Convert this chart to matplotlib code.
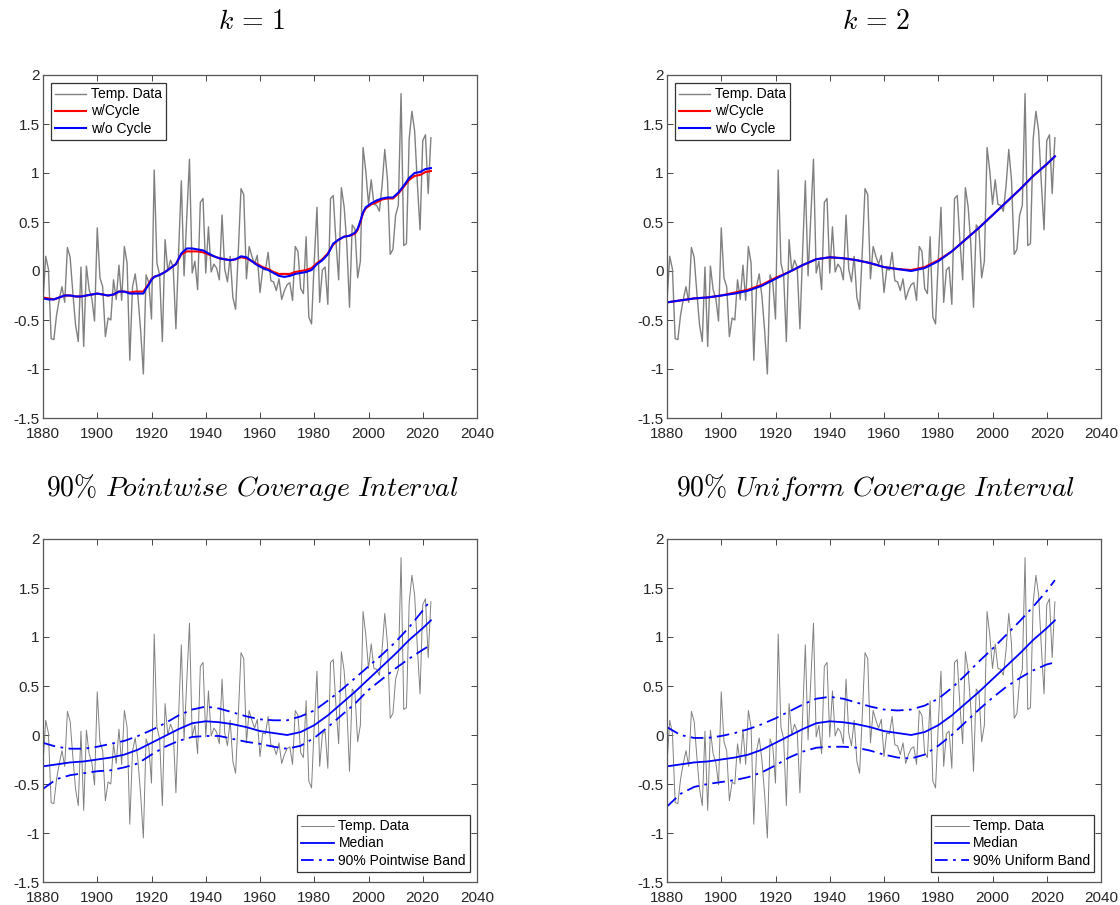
import numpy as np
import matplotlib
matplotlib.use("Agg")
import matplotlib.pyplot as plt

plt.rcParams['font.family'] = ['Liberation Sans', 'DejaVu Sans']
plt.rcParams['mathtext.fontset'] = 'cm'
plt.rcParams['axes.unicode_minus'] = False

# ---------------- data ----------------
years = list(range(1880, 2024))
temp = [
    -0.30, 0.15, 0.02, -0.69, -0.70, -0.45, -0.29, -0.16, -0.32, 0.24,   # 1880-1889
    0.14, -0.22, -0.55, -0.72, 0.04, -0.77, 0.05, -0.19, -0.28, -0.51,   # 1890-1899
    0.44, -0.07, -0.16, -0.67, -0.48, -0.50, -0.09, -0.29, 0.06, -0.30,  # 1900-1909
    0.25, 0.08, -0.91, -0.16, -0.03, -0.26, -0.61, -1.05, -0.04, -0.12,  # 1910-1919
    -0.49, 1.03, 0.08, -0.04, -0.72, 0.32, 0.00, 0.11, 0.04, -0.59,      # 1920-1929
    0.20, 0.92, -0.05, 0.55, 1.14, -0.02, 0.10, -0.19, 0.70, 0.74,       # 1930-1939
    -0.02, 0.45, -0.01, 0.07, 0.03, -0.09, 0.57, 0.02, -0.11, 0.15,      # 1940-1949
    -0.27, -0.39, 0.20, 0.84, 0.78, -0.08, 0.25, 0.15, 0.07, 0.16,       # 1950-1959
    -0.22, 0.02, 0.01, 0.19, -0.10, -0.11, -0.20, -0.08, -0.29, -0.20,   # 1960-1969
    -0.14, -0.12, -0.30, 0.25, 0.20, -0.18, -0.23, 0.35, -0.47, -0.54,   # 1970-1979
    0.10, 0.65, -0.32, 0.01, 0.04, -0.34, 0.74, 0.77, 0.30, -0.09,       # 1980-1989
    0.85, 0.66, 0.28, -0.37, 0.47, 0.43, -0.07, 0.10, 1.26, 1.02,        # 1990-1999
    0.68, 0.93, 0.68, 0.67, 0.61, 0.87, 1.24, 0.93, 0.17, 0.22,          # 2000-2009
    0.57, 0.67, 1.81, 0.26, 0.28, 1.35, 1.63, 1.43, 0.90, 0.42,          # 2010-2019
    1.33, 1.39, 0.79, 1.36,                                              # 2020-2023
]

# k = 1 trends
k1_years = [1880, 1882, 1884, 1886, 1888, 1890, 1892, 1894, 1896, 1898, 1900, 1902,
            1904, 1906, 1908, 1910, 1912, 1914, 1916, 1917, 1918, 1919, 1920, 1921,
            1923, 1925, 1927, 1929, 1931, 1933, 1935, 1937, 1939, 1941, 1943, 1945,
            1947, 1949, 1951, 1953, 1955, 1957, 1959, 1961, 1963, 1965, 1967, 1969,
            1971, 1973, 1975, 1977, 1979, 1981, 1983, 1985, 1987, 1989, 1991, 1993,
            1995, 1996, 1997, 1998, 1999, 2001, 2003, 2005, 2007, 2009, 2011, 2013,
            2015, 2017, 2019, 2021, 2023]
k1_cycle = [-0.27, -0.28, -0.29, -0.27, -0.25, -0.25, -0.26, -0.26, -0.25, -0.24, -0.23, -0.24,
            -0.25, -0.24, -0.21, -0.21, -0.22, -0.21, -0.21, -0.21, -0.17, -0.13, -0.08, -0.06,
            -0.04, -0.01, 0.03, 0.07, 0.17, 0.20, 0.20, 0.20, 0.19, 0.17, 0.15, 0.13,
            0.12, 0.11, 0.12, 0.14, 0.13, 0.10, 0.07, 0.04, 0.02, -0.01, -0.03, -0.03,
            -0.03, -0.01, 0.00, 0.01, 0.03, 0.08, 0.12, 0.18, 0.27, 0.32, 0.35, 0.36,
            0.38, 0.42, 0.50, 0.59, 0.64, 0.68, 0.70, 0.73, 0.74, 0.74, 0.79, 0.86,
            0.93, 0.97, 0.98, 1.01, 1.02]
k1_nocycle = [-0.28, -0.29, -0.29, -0.27, -0.25, -0.25, -0.26, -0.26, -0.25, -0.24, -0.23, -0.24,
              -0.25, -0.24, -0.21, -0.21, -0.23, -0.23, -0.23, -0.23, -0.18, -0.14, -0.09, -0.06,
              -0.04, -0.01, 0.03, 0.07, 0.18, 0.23, 0.23, 0.22, 0.21, 0.18, 0.15, 0.13,
              0.12, 0.11, 0.12, 0.15, 0.14, 0.10, 0.06, 0.03, 0.01, -0.02, -0.05, -0.06,
              -0.05, -0.03, -0.02, -0.01, 0.01, 0.07, 0.11, 0.17, 0.28, 0.32, 0.35, 0.36,
              0.39, 0.43, 0.51, 0.60, 0.65, 0.69, 0.72, 0.74, 0.75, 0.75, 0.80, 0.87,
              0.95, 1.00, 1.01, 1.04, 1.05]

# k = 2 trends / median and bands
k2_years = [1880, 1885, 1890, 1895, 1900, 1905, 1910, 1915, 1920, 1925, 1930, 1935, 1940,
            1945, 1950, 1955, 1960, 1965, 1970, 1975, 1980, 1985, 1990, 1995, 2000,
            2005, 2010, 2015, 2020, 2023]
k2_cycle = [-0.32, -0.30, -0.28, -0.27, -0.25, -0.22, -0.19, -0.14, -0.07, -0.01, 0.06, 0.12, 0.14,
            0.13, 0.11, 0.08, 0.04, 0.02, 0.01, 0.04, 0.11, 0.20, 0.32, 0.44, 0.57,
            0.70, 0.83, 0.97, 1.09, 1.17]
k2_nocycle = [-0.32, -0.30, -0.28, -0.27, -0.25, -0.23, -0.20, -0.15, -0.08, -0.01, 0.06, 0.12, 0.14,
              0.13, 0.11, 0.08, 0.04, 0.02, 0.00, 0.03, 0.10, 0.20, 0.32, 0.44, 0.57,
              0.70, 0.83, 0.97, 1.09, 1.17]
median = [-0.32, -0.30, -0.28, -0.27, -0.25, -0.23, -0.20, -0.15, -0.08, -0.01, 0.06, 0.12, 0.14,
          0.13, 0.11, 0.08, 0.04, 0.02, 0.00, 0.03, 0.10, 0.20, 0.32, 0.44, 0.57,
          0.70, 0.83, 0.97, 1.09, 1.17]
pw_upper = [-0.08, -0.12, -0.14, -0.14, -0.12, -0.09, -0.06, -0.01, 0.05, 0.12, 0.20, 0.26, 0.29,
            0.27, 0.23, 0.19, 0.16, 0.15, 0.15, 0.19, 0.25, 0.35, 0.46, 0.58, 0.70,
            0.82, 0.95, 1.10, 1.27, 1.38]
pw_lower = [-0.55, -0.45, -0.41, -0.39, -0.37, -0.36, -0.33, -0.29, -0.20, -0.12, -0.06, -0.02, -0.01,
            -0.01, -0.04, -0.07, -0.09, -0.12, -0.14, -0.11, -0.03, 0.08, 0.20, 0.32, 0.46,
            0.57, 0.68, 0.78, 0.87, 0.92]
un_upper = [0.08, 0.00, -0.03, -0.03, -0.01, 0.02, 0.06, 0.11, 0.17, 0.24, 0.31, 0.37, 0.39,
            0.37, 0.33, 0.29, 0.26, 0.25, 0.26, 0.30, 0.37, 0.48, 0.61, 0.75, 0.88,
            1.02, 1.16, 1.31, 1.47, 1.58]
un_lower = [-0.73, -0.60, -0.53, -0.50, -0.48, -0.46, -0.43, -0.38, -0.31, -0.23, -0.17, -0.13, -0.12,
            -0.12, -0.13, -0.16, -0.20, -0.23, -0.24, -0.20, -0.11, 0.00, 0.13, 0.26, 0.38,
            0.49, 0.58, 0.66, 0.72, 0.74]

xticks = [1880, 1900, 1920, 1940, 1960, 1980, 2000, 2020, 2040]
yticks = [-1.5, -1, -0.5, 0, 0.5, 1, 1.5, 2]
ytick_labels = ['-1.5', '-1', '-0.5', '0', '0.5', '1', '1.5', '2']

# ---------------- figure ----------------
W, H = 1120, 905
fig = plt.figure(figsize=(W / 100, H / 100), dpi=100)

def make_ax(x0, y0top, w=434, h=343):
    return fig.add_axes([x0 / W, (H - y0top - h) / H, w / W, h / H])

axes = [make_ax(43, 75), make_ax(667, 75), make_ax(43, 539), make_ax(667, 539)]

AXC = '#262626'
for ax in axes:
    ax.set_xlim(1880, 2040)
    ax.set_ylim(-1.5, 2)
    ax.set_xticks(xticks)
    ax.set_yticks(yticks)
    ax.set_yticklabels(ytick_labels)
    ax.tick_params(direction='in', top=True, right=True, length=4.5, width=0.6,
                   labelsize=11, colors=AXC)
    ax.tick_params(axis='x', pad=6.5)
    ax.tick_params(axis='y', pad=2.5)
    for s in ax.spines.values():
        s.set_color('#555555')
        s.set_linewidth(0.9)

GRAY = '#808080'
dashdot = (0, (7, 3, 1.5, 3))

# top row
for ax, (c_red, c_blue, yrs) in zip(axes[:2], [(k1_cycle, k1_nocycle, k1_years),
                                               (k2_cycle, k2_nocycle, k2_years)]):
    ax.plot(years, temp, color=GRAY, lw=1.0, label='Temp. Data')
    ax.plot(yrs, c_red, color='#ff0000', lw=1.5, label='w/Cycle')
    ax.plot(yrs, c_blue, color='#0000ff', lw=1.5, label='w/o Cycle')
    leg = ax.legend(loc='upper left', bbox_to_anchor=(0.018, 0.976), fontsize=10,
                    frameon=True, fancybox=False, framealpha=1, edgecolor='#333333',
                    handlelength=2.2, handletextpad=0.4, labelspacing=0.22,
                    borderpad=0.3, borderaxespad=0)
    leg.get_frame().set_linewidth(0.9)

# bottom row
for ax, (up, lo, name) in zip(axes[2:], [(pw_upper, pw_lower, '90% Pointwise Band'),
                                         (un_upper, un_lower, '90% Uniform Band')]):
    ax.plot(years, temp, color=GRAY, lw=0.7, label='Temp. Data')
    ax.plot(k2_years, median, color='#0000ff', lw=1.3, label='Median')
    ax.plot(k2_years, up, color='#0000ff', lw=1.3, linestyle=dashdot, label=name)
    ax.plot(k2_years, lo, color='#0000ff', lw=1.3, linestyle=dashdot)
    leg = ax.legend(loc='lower right', bbox_to_anchor=(0.984, 0.03), fontsize=10,
                    frameon=True, fancybox=False, framealpha=1, edgecolor='#333333',
                    handlelength=2.4, handletextpad=0.3, labelspacing=0.22,
                    borderpad=0.3, borderaxespad=0)
    leg.get_frame().set_linewidth(0.9)

# titles
fig.text(252 / W, 1 - 22 / H, r'$k\,=\,1$', ha='center', va='center', fontsize=20)
fig.text(876 / W, 1 - 22 / H, r'$k\,=\,2$', ha='center', va='center', fontsize=20)
fig.text(252 / W, 1 - 487 / H, r'$\mathit{90\%\ Pointwise\ Coverage\ Interval}$',
         ha='center', va='center', fontsize=20)
fig.text(876 / W, 1 - 487 / H, r'$\mathit{90\%\ Uniform\ Coverage\ Interval}$',
         ha='center', va='center', fontsize=20)

fig.savefig('out.png', dpi=100)
